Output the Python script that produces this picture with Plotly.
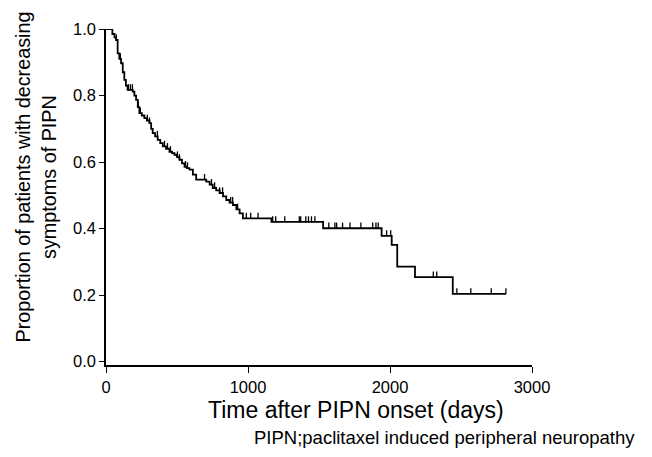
import plotly.graph_objects as go

# Kaplan-Meier step data (days, proportion after step)
event_days = [0, 45, 60, 71, 82, 94, 106, 118, 129, 140, 152, 188, 200, 212, 224, 235,
              252, 270, 288, 306, 318, 329, 346, 364, 382, 400, 423, 447, 465, 482,
              500, 517, 535, 553, 570, 588, 612, 635, 706, 730, 752, 776, 800, 824,
              847, 870, 894, 918, 941, 964, 1165, 1529, 1941, 2012, 2051, 2176, 2442, 2816]
survival = [1.0, 0.985, 0.975, 0.967, 0.927, 0.91, 0.897, 0.87, 0.847, 0.83, 0.817, 0.812,
            0.80, 0.787, 0.765, 0.747, 0.74, 0.732, 0.725, 0.717, 0.70, 0.687, 0.677,
            0.667, 0.657, 0.647, 0.64, 0.631, 0.627, 0.622, 0.615, 0.607, 0.596, 0.586,
            0.582, 0.577, 0.562, 0.547, 0.541, 0.532, 0.522, 0.515, 0.507, 0.497, 0.486,
            0.478, 0.471, 0.458, 0.446, 0.431, 0.42, 0.401, 0.378, 0.351, 0.286, 0.254,
            0.204, 0.204]

# censored observations (days)
censor_days = [73, 101, 158, 172, 186, 228, 242, 291, 306, 362, 412, 433, 454, 503, 517,
               560, 574, 694, 743, 765, 800, 821, 878, 892, 927,
               988, 1019, 1071,
               1174, 1195, 1259, 1361, 1371, 1407, 1426, 1447, 1471,
               1569, 1612, 1624, 1666, 1718, 1795, 1878, 1901, 1917,
               1976, 2005,
               2305, 2329,
               2471, 2569, 2713, 2816]

x_ticks = [0, 1000, 2000, 3000]
y_ticks = [0.0, 0.2, 0.4, 0.6, 0.8, 1.0]


def surv_at(t):
    s = survival[0]
    for d, v in zip(event_days, survival):
        if d <= t:
            s = v
    return s


censor_surv = [surv_at(t) for t in censor_days]

fig = go.Figure()
fig.add_trace(go.Scatter(x=event_days, y=survival, mode="lines",
                         line=dict(color="black", width=1.8, shape="hv"),
                         hoverinfo="skip", showlegend=False))
fig.add_trace(go.Scatter(x=censor_days, y=censor_surv, mode="markers",
                         marker=dict(size=1, color="black"),
                         error_y=dict(type="data", symmetric=False,
                                      array=[0.017] * len(censor_days),
                                      arrayminus=[0] * len(censor_days),
                                      width=0, thickness=1.3, color="black"),
                         hoverinfo="skip", showlegend=False))

font_family = "Liberation Sans, Arial, sans-serif"
fig.update_layout(
    width=652, height=457,
    margin=dict(l=98, r=128, t=21, b=100),
    paper_bgcolor="white", plot_bgcolor="white",
    font=dict(family=font_family, color="black", size=16),
    showlegend=False,
    xaxis=dict(range=[0, 3000], tickvals=x_ticks, ticktext=[str(v) for v in x_ticks],
               showgrid=False, zeroline=False, showline=True, linecolor="black",
               linewidth=1.5, ticks="outside", ticklen=6, tickwidth=1.2,
               tickcolor="black", tickfont=dict(size=16.5)),
    yaxis=dict(range=[-0.01, 1.0], tickvals=y_ticks,
               ticktext=["%.1f" % v for v in y_ticks],
               showgrid=False, zeroline=False, showline=True, linecolor="black",
               linewidth=1.5, ticks="outside", ticklen=5, tickwidth=1.2,
               tickcolor="black", tickfont=dict(size=16.5)),
    annotations=[
        dict(text="Proportion of patients with decreasing<br>symptoms of PIPN",
             xref="paper", yref="paper", x=-0.165, y=0.56, textangle=-90,
             xanchor="center", yanchor="middle", showarrow=False,
             font=dict(size=19.8)),
        dict(text="Time after PIPN onset (days)", xref="paper", yref="paper",
             x=0.586, y=-0.134, xanchor="center", yanchor="middle",
             showarrow=False, font=dict(size=23)),
        dict(text="PIPN;paclitaxel induced peripheral neuropathy", xref="paper",
             yref="paper", x=1.247, y=-0.217, xanchor="right", yanchor="middle",
             showarrow=False, font=dict(size=18.5)),
    ],
)

fig.write_html("out.html")
